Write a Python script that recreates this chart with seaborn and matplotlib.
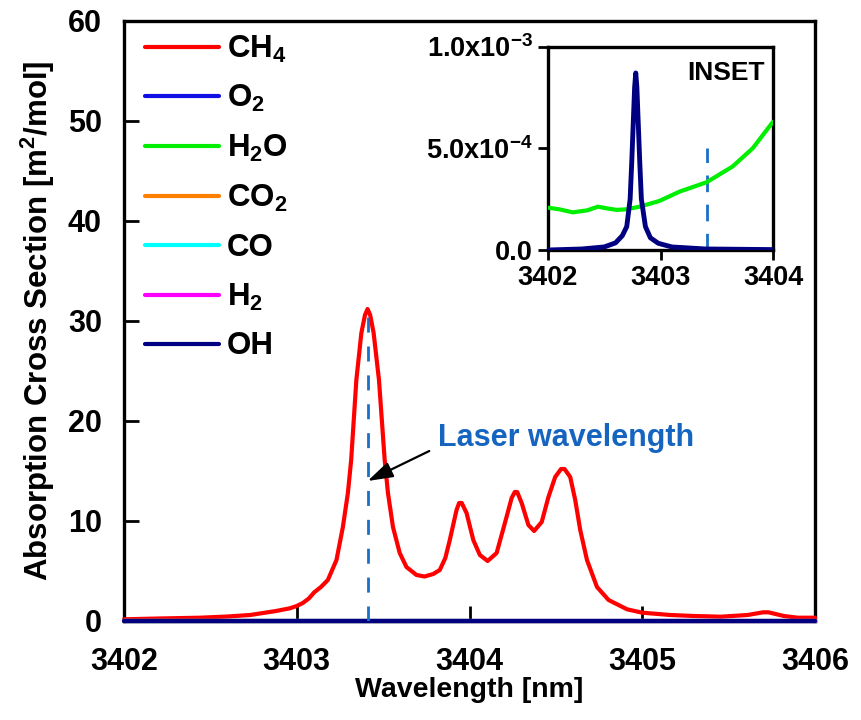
import numpy as np
import pandas as pd
import matplotlib
matplotlib.use("Agg")
import matplotlib.pyplot as plt
import seaborn as sns

sns.set_theme(style="ticks")
plt.rcParams['font.family'] = ['Liberation Sans', 'DejaVu Sans']
plt.rcParams['font.weight'] = 'bold'
plt.rcParams['mathtext.fontset'] = 'custom'
plt.rcParams['mathtext.rm'] = 'Liberation Sans:bold'
plt.rcParams['mathtext.it'] = 'Liberation Sans:bold'
plt.rcParams['mathtext.bf'] = 'Liberation Sans:bold'
plt.rcParams['mathtext.default'] = 'rm'
for k in ['text.color', 'axes.labelcolor', 'xtick.color', 'ytick.color', 'axes.edgecolor']:
    plt.rcParams[k] = 'black'

# ---------------- data ----------------
ch4_wl = [3402.00, 3402.20, 3402.44, 3402.60, 3402.73, 3402.88, 3402.96, 3403.00,
          3403.035, 3403.07, 3403.10, 3403.14, 3403.18, 3403.23, 3403.267, 3403.296,
          3403.315, 3403.345, 3403.374, 3403.395, 3403.41, 3403.425, 3403.445, 3403.476,
          3403.509, 3403.528, 3403.557, 3403.596, 3403.635, 3403.693, 3403.74, 3403.79,
          3403.828, 3403.86, 3403.886, 3403.925, 3403.94, 3403.955, 3403.983, 3404.022,
          3404.06, 3404.105, 3404.157, 3404.205, 3404.244, 3404.262, 3404.276, 3404.302,
          3404.341, 3404.374, 3404.418, 3404.457, 3404.496, 3404.53, 3404.55, 3404.583,
          3404.612, 3404.641, 3404.68, 3404.738, 3404.805, 3404.912, 3405.00, 3405.163,
          3405.30, 3405.453, 3405.61, 3405.70, 3405.73, 3405.82, 3405.90, 3406.00]
ch4_val = [0.17, 0.25, 0.33, 0.45, 0.6, 1.0, 1.27, 1.5,
           1.8, 2.25, 2.85, 3.4, 4.1, 6.1, 9.4, 12.8,
           16.1, 24.1, 28.8, 30.6, 31.2, 30.6, 28.8, 24.1,
           16.1, 12.8, 9.4, 6.8, 5.4, 4.6, 4.45, 4.7,
           5.1, 6.3, 8.1, 11.1, 11.8, 11.8, 10.8, 8.1,
           6.6, 6.0, 6.8, 9.8, 12.3, 12.9, 12.9, 11.8,
           9.6, 9.0, 9.9, 12.4, 14.4, 15.2, 15.2, 14.4,
           12.1, 9.1, 6.1, 3.4, 2.1, 1.17, 0.83, 0.6,
           0.5, 0.43, 0.6, 0.87, 0.87, 0.5, 0.33, 0.33]

h2o_wl = [3402.00, 3402.10, 3402.22, 3402.35, 3402.444, 3402.52, 3402.61, 3402.70,
          3402.815, 3402.99, 3403.17, 3403.41, 3403.64, 3403.82, 3404.00]
h2o_val = [2.08e-4, 2.0e-4, 1.85e-4, 1.95e-4, 2.13e-4, 2.05e-4, 1.97e-4, 2.0e-4,
           2.13e-4, 2.41e-4, 2.87e-4, 3.33e-4, 4.1e-4, 5.0e-4, 6.3e-4]

oh_wl = [3402.00, 3402.30, 3402.50, 3402.60, 3402.66, 3402.70, 3402.73, 3402.745,
         3402.77, 3402.78, 3402.79, 3402.815, 3402.83, 3402.866, 3402.91, 3402.98,
         3403.10, 3403.40, 3404.00, 3406.00]
oh_val = [0.0, 0.05e-4, 0.15e-4, 0.35e-4, 0.7e-4, 1.15e-4, 2.5e-4, 4.4e-4,
          8.0e-4, 8.7e-4, 8.0e-4, 4.4e-4, 2.5e-4, 1.15e-4, 0.6e-4, 0.33e-4,
          0.15e-4, 0.05e-4, 0.02e-4, 0.0]

zero_wl = [3402.0, 3406.0]
o2_val = [0.0, 0.0]
co2_val = [0.0, 0.0]
co_val = [0.0, 0.0]
h2_val = [0.0, 0.0]

laser_wl = 3403.41
laser_top_main = 31.0
laser_top_inset = 5.0e-4

species = ["CH$_4$", "O$_2$", "H$_2$O", "CO$_2$", "CO", "H$_2$", "OH"]
colors = ["#ff0000", "#1010e6", "#00ee00", "#ff8000", "#00ffff", "#ff00ff", "#000080"]

x_ticks = [3402, 3403, 3404, 3405, 3406]
y_ticks = [0, 10, 20, 30, 40, 50, 60]
inset_x_ticks = [3402, 3403, 3404]
inset_y_ticks = [0.0, 5.0e-4, 1.0e-3]
inset_y_labels = ["0.0", "5.0x10$^{-4}$", "1.0x10$^{-3}$"]

series = [
    (ch4_wl, ch4_val),
    (zero_wl, o2_val),
    (h2o_wl, h2o_val),
    (zero_wl, co2_val),
    (zero_wl, co_val),
    (zero_wl, h2_val),
    (oh_wl, oh_val),
]

laser_color = "#1a6fc8"

# ---------------- figure ----------------
fig = plt.figure(figsize=(8.61, 7.2), dpi=100)
ax = fig.add_axes([124/861, 1-621/720, 691/861, 600/720])

for (wl, val), name, col in zip(series, species, colors):
    df = pd.DataFrame({"wl": wl, "v": val})
    sns.lineplot(data=df, x="wl", y="v", ax=ax, color=col, lw=3.0, label=name,
                 clip_on=False, zorder=3, sort=False)

ax.plot([laser_wl, laser_wl], [0, laser_top_main], ls=(0, (5.4, 5.0)), lw=2.0,
        color=laser_color, zorder=4)

ax.set_xlim(3402, 3406)
ax.set_ylim(0, 60)
ax.set_xticks(x_ticks)
ax.set_yticks(y_ticks)
ax.tick_params(axis="x", direction="in", length=11, width=2, labelsize=22, pad=19)
ax.tick_params(axis="y", direction="in", length=11, width=2, labelsize=22, pad=16)
for sp in ax.spines.values():
    sp.set_linewidth(2.4)
    sp.set_color("black")
ax.set_xlabel("Wavelength [nm]", fontsize=20.5, fontweight="bold", labelpad=0)
ax.set_ylabel("Absorption Cross Section [m$^2$/mol]", fontsize=22.5, fontweight="bold", labelpad=8)
for lab in ax.get_xticklabels() + ax.get_yticklabels():
    lab.set_fontweight("bold")

leg = ax.legend(loc="upper left", frameon=False, fontsize=22.5, handlelength=2.35,
                handletextpad=0.25, labelspacing=0.6, borderaxespad=0.0,
                bbox_to_anchor=(0.013, 1.0))
for line in leg.get_lines():
    line.set_linewidth(3.0)

ax.annotate("Laser wavelength", xy=(laser_wl, 14.0), xytext=(3403.815, 18.3),
            fontsize=22, fontweight="bold", color="#1565c0", ha="left", va="center",
            arrowprops=dict(arrowstyle="-|>,head_length=0.7,head_width=0.22", color="black",
                            lw=1.6, shrinkA=4, shrinkB=0,
                            relpos=(0.0, 0.2)))

# ---------------- inset ----------------
axin = fig.add_axes([548/861, 1-250/720, 225/861, 203.5/720])
axin.set_facecolor("white")
sns.lineplot(x=h2o_wl, y=h2o_val, ax=axin, color=colors[2], lw=3.0, zorder=3, sort=False)
sns.lineplot(x=oh_wl, y=oh_val, ax=axin, color=colors[6], lw=3.5, zorder=4, sort=False)
axin.plot([laser_wl, laser_wl], [0, laser_top_inset], ls=(0, (6, 4.5)), lw=2.0,
          color=laser_color, zorder=2)
axin.set_xlim(3402, 3404)
axin.set_ylim(0, 1.0e-3)
axin.set_xticks(inset_x_ticks)
axin.set_xticklabels([str(t) for t in inset_x_ticks])
axin.set_yticks(inset_y_ticks)
axin.set_yticklabels(inset_y_labels)
axin.tick_params(direction="out", length=7, width=2, labelsize=19.5, pad=4)
for lab in axin.get_xticklabels() + axin.get_yticklabels():
    lab.set_fontweight("bold")
for sp in axin.spines.values():
    sp.set_linewidth(2.4)
    sp.set_color("black")
axin.set_xlabel("")
axin.set_ylabel("")
axin.text(0.965, 0.87, "INSET", transform=axin.transAxes, ha="right", va="center",
          fontsize=19, fontweight="bold")

fig.savefig("out.png", dpi=100)
